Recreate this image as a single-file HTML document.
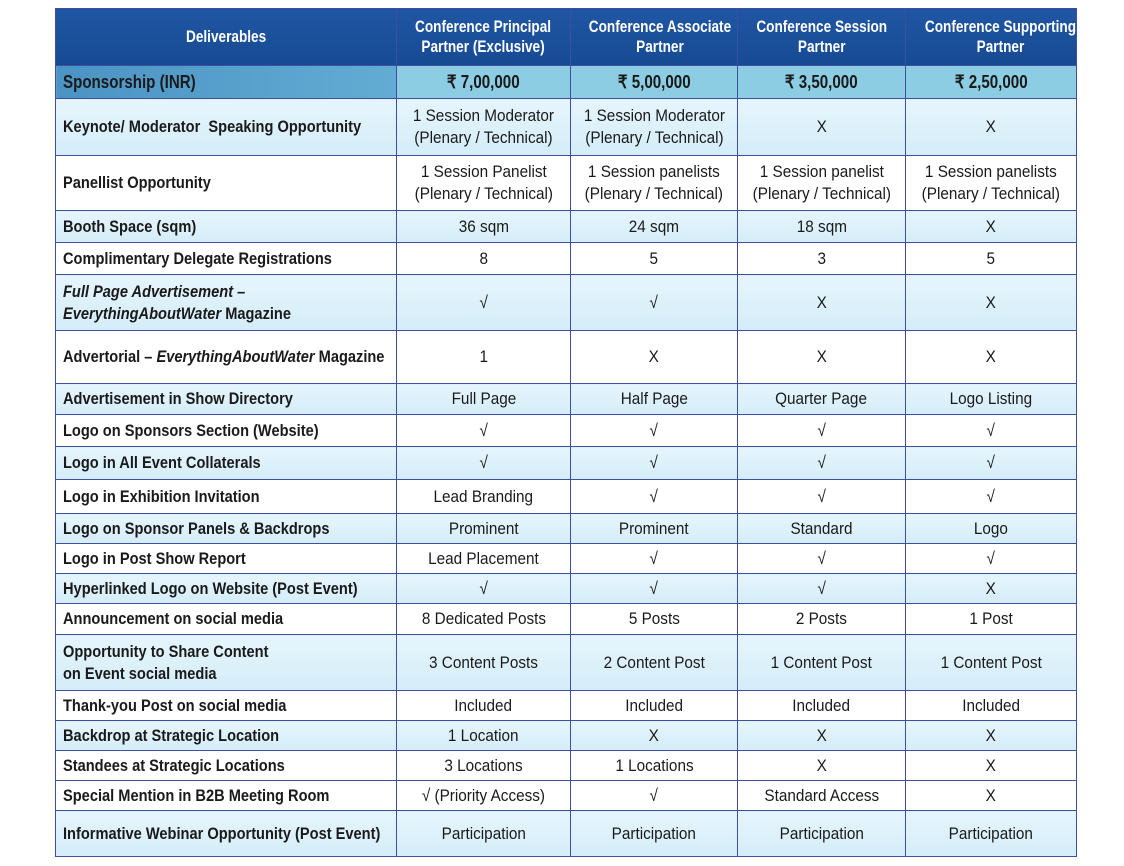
<!DOCTYPE html>
<html><head><meta charset="utf-8"><style>
body{margin:0;width:1124px;height:866px;background:#fff;overflow:hidden}
table{position:absolute;left:55px;top:8px;border-collapse:collapse;table-layout:fixed;width:1021px;font-family:"Liberation Sans",sans-serif;font-size:17px;color:#1a1a1a}
td{border:1.5px solid #3d4f9e;text-align:center;padding:0;line-height:22px;overflow:hidden;white-space:nowrap}
td>span{display:inline-block;transform:scaleX(0.9);transform-origin:center}
td:first-child{text-align:left;font-weight:bold;padding-left:7px}
td:first-child>span{transform-origin:left;transform:scaleX(0.86)}
tr.h td{background:linear-gradient(#1f56a3,#174a93);color:#fff;font-weight:bold;text-align:center;line-height:20px;font-size:17px}
tr.h td>span,tr.h td:first-child>span{transform-origin:center;transform:scaleX(0.8)}
tr.h td:first-child{padding-left:0}
tr.s td{background:#8ccde4;font-weight:bold;font-size:18px}
tr.s td>span{transform:scaleX(0.84)}
tr.s td:first-child{background:linear-gradient(90deg,#4b93c4,#62acd4)}
tr.b td{background:linear-gradient(#e6f5fc,#d4edf9)}
</style></head><body>
<table>
<colgroup><col style="width:341px"><col style="width:174px"><col style="width:167px"><col style="width:168px"><col style="width:171px"></colgroup>
<tr class="h" style="height:57px"><td><span>Deliverables</span></td><td><span>Conference Principal<br>Partner (Exclusive)</span></td><td><span>Conference Associate<br>Partner</span></td><td><span>Conference Session<br>Partner</span></td><td><span>Conference Supporting<br>Partner</span></td></tr>
<tr class="s" style="height:33px"><td><span>Sponsorship (INR)</span></td><td><span>₹ 7,00,000</span></td><td><span>₹ 5,00,000</span></td><td><span>₹ 3,50,000</span></td><td><span>₹ 2,50,000</span></td></tr>
<tr class="b" style="height:57px"><td><span>Keynote/ Moderator&nbsp; Speaking Opportunity</span></td><td><span>1 Session Moderator<br>(Plenary / Technical)</span></td><td><span>1 Session Moderator<br>(Plenary / Technical)</span></td><td><span>X</span></td><td><span>X</span></td></tr>
<tr style="height:55px"><td><span>Panellist Opportunity</span></td><td><span>1 Session Panelist<br>(Plenary / Technical)</span></td><td><span>1 Session panelists<br>(Plenary / Technical)</span></td><td><span>1 Session panelist<br>(Plenary / Technical)</span></td><td><span>1 Session panelists<br>(Plenary / Technical)</span></td></tr>
<tr class="b" style="height:32px"><td><span>Booth Space (sqm)</span></td><td><span>36 sqm</span></td><td><span>24 sqm</span></td><td><span>18 sqm</span></td><td><span>X</span></td></tr>
<tr style="height:32px"><td><span>Complimentary Delegate Registrations</span></td><td><span>8</span></td><td><span>5</span></td><td><span>3</span></td><td><span>5</span></td></tr>
<tr class="b" style="height:56px"><td><span><i>Full Page Advertisement –<br>EverythingAboutWater</i> Magazine</span></td><td><span>√</span></td><td><span>√</span></td><td><span>X</span></td><td><span>X</span></td></tr>
<tr style="height:53px"><td><span>Advertorial – <i>EverythingAboutWater</i> Magazine</span></td><td><span>1</span></td><td><span>X</span></td><td><span>X</span></td><td><span>X</span></td></tr>
<tr class="b" style="height:31px"><td><span>Advertisement in Show Directory</span></td><td><span>Full Page</span></td><td><span>Half Page</span></td><td><span>Quarter Page</span></td><td><span>Logo Listing</span></td></tr>
<tr style="height:32px"><td><span>Logo on Sponsors Section (Website)</span></td><td><span>√</span></td><td><span>√</span></td><td><span>√</span></td><td><span>√</span></td></tr>
<tr class="b" style="height:33px"><td><span>Logo in All Event Collaterals</span></td><td><span>√</span></td><td><span>√</span></td><td><span>√</span></td><td><span>√</span></td></tr>
<tr style="height:34px"><td><span>Logo in Exhibition Invitation</span></td><td><span>Lead Branding</span></td><td><span>√</span></td><td><span>√</span></td><td><span>√</span></td></tr>
<tr class="b" style="height:30px"><td><span>Logo on Sponsor Panels &amp; Backdrops</span></td><td><span>Prominent</span></td><td><span>Prominent</span></td><td><span>Standard</span></td><td><span>Logo</span></td></tr>
<tr style="height:30px"><td><span>Logo in Post Show Report</span></td><td><span>Lead Placement</span></td><td><span>√</span></td><td><span>√</span></td><td><span>√</span></td></tr>
<tr class="b" style="height:30px"><td><span>Hyperlinked Logo on Website (Post Event)</span></td><td><span>√</span></td><td><span>√</span></td><td><span>√</span></td><td><span>X</span></td></tr>
<tr style="height:31px"><td><span>Announcement on social media</span></td><td><span>8 Dedicated Posts</span></td><td><span>5 Posts</span></td><td><span>2 Posts</span></td><td><span>1 Post</span></td></tr>
<tr class="b" style="height:56px"><td><span>Opportunity to Share Content<br>on Event social media</span></td><td><span>3 Content Posts</span></td><td><span>2 Content Post</span></td><td><span>1 Content Post</span></td><td><span>1 Content Post</span></td></tr>
<tr style="height:30px"><td><span>Thank-you Post on social media</span></td><td><span>Included</span></td><td><span>Included</span></td><td><span>Included</span></td><td><span>Included</span></td></tr>
<tr class="b" style="height:30px"><td><span>Backdrop at Strategic Location</span></td><td><span>1 Location</span></td><td><span>X</span></td><td><span>X</span></td><td><span>X</span></td></tr>
<tr style="height:30px"><td><span>Standees at Strategic Locations</span></td><td><span>3 Locations</span></td><td><span>1 Locations</span></td><td><span>X</span></td><td><span>X</span></td></tr>
<tr style="height:30px"><td><span>Special Mention in B2B Meeting Room</span></td><td><span>√ (Priority Access)</span></td><td><span>√</span></td><td><span>Standard Access</span></td><td><span>X</span></td></tr>
<tr class="b" style="height:46px"><td><span>Informative Webinar Opportunity (Post Event)</span></td><td><span>Participation</span></td><td><span>Participation</span></td><td><span>Participation</span></td><td><span>Participation</span></td></tr>
</table>
</body></html>
